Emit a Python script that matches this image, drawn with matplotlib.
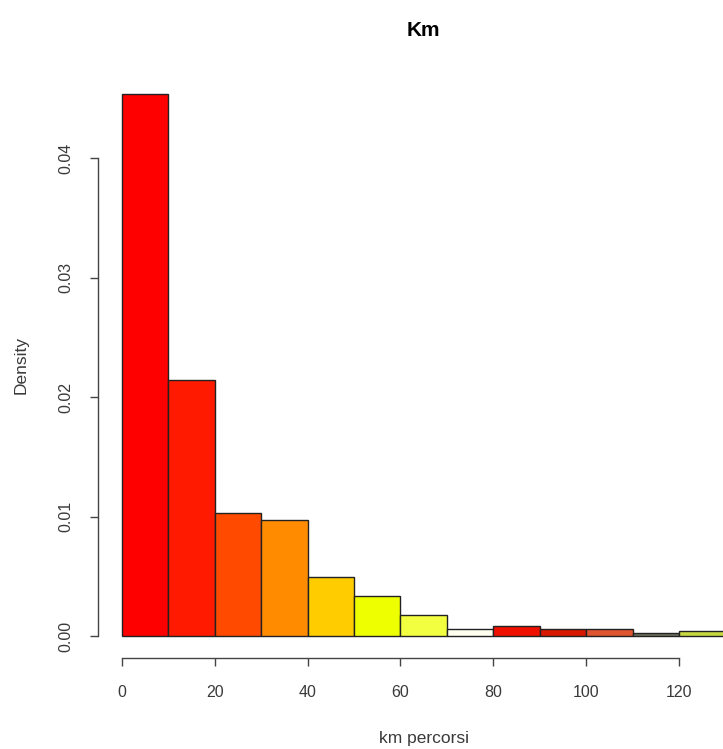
import matplotlib.pyplot as plt
import numpy as np

plt.rcParams['font.family'] = ['Liberation Sans', 'DejaVu Sans']

# histogram of km travelled (density per 10 km bin)
bin_left = [0, 10, 20, 30, 40, 50, 60, 70, 80, 90, 100, 110, 120]
density = [0.04536, 0.02142, 0.01029, 0.00971, 0.00494, 0.00335, 0.00176,
           0.00059, 0.00084, 0.00059, 0.00059, 0.00025, 0.00042]
bar_colors = ['#FF0000', '#FF1A00', '#FF4A00', '#FF8C00', '#FFCC00', '#EEFF00',
              '#F2FF40', '#FFFFF0', '#EE1100', '#D81800', '#E05530', '#707060',
              '#C8D840']
x_ticks = [0, 20, 40, 60, 80, 100, 120]
y_ticks = [0.00, 0.01, 0.02, 0.03, 0.04]

W, H = 723, 749
fig = plt.figure(figsize=(W / 100, H / 100), dpi=100)

# plot region (R style, 4% extension); right part runs off the image
left_px, right_px = 97.8, 749.6
top_px, bottom_px = 72.0, 657.5
ax = fig.add_axes([left_px / W, (H - bottom_px) / H,
                   (right_px - left_px) / W, (bottom_px - top_px) / H])

ax.bar(bin_left, density, width=10, align='edge', color=bar_colors,
       edgecolor='#222222', linewidth=1.0)

ax.set_xlim(-5.2, 135.2)
ax.set_ylim(-0.0018, 0.0472)

for s in ['top', 'right']:
    ax.spines[s].set_visible(False)
ax.spines['left'].set_bounds(0, 0.04)
ax.spines['bottom'].set_bounds(0, 120)
for s in ['left', 'bottom']:
    ax.spines[s].set_color('#444444')
    ax.spines[s].set_linewidth(1.0)

ax.set_xticks(x_ticks)
ax.set_xticklabels([str(t) for t in x_ticks])
ax.set_yticks(y_ticks)
ax.set_yticklabels(['%.2f' % t for t in y_ticks], rotation=90, va='center')
ax.tick_params(length=5.5, width=1.0, color='#444444', labelcolor='#3a3a3a',
               labelsize=11.5)
ax.tick_params(axis='x', pad=14)
ax.tick_params(axis='y', pad=12)

ax.set_title('Km', fontsize=15, fontweight='bold', pad=26)
ax.set_xlabel('km percorsi', fontsize=12.5, color='#3a3a3a')
ax.xaxis.set_label_coords(0.5, -(739 - bottom_px) / (bottom_px - top_px))
ax.xaxis.label.set_va('center')
ax.set_ylabel('Density', fontsize=12.5, color='#3a3a3a')
ax.yaxis.set_label_coords(-(left_px - 21) / (right_px - left_px), 0.5)
ax.yaxis.label.set_va('center')

fig.savefig('out.png', dpi=100)
